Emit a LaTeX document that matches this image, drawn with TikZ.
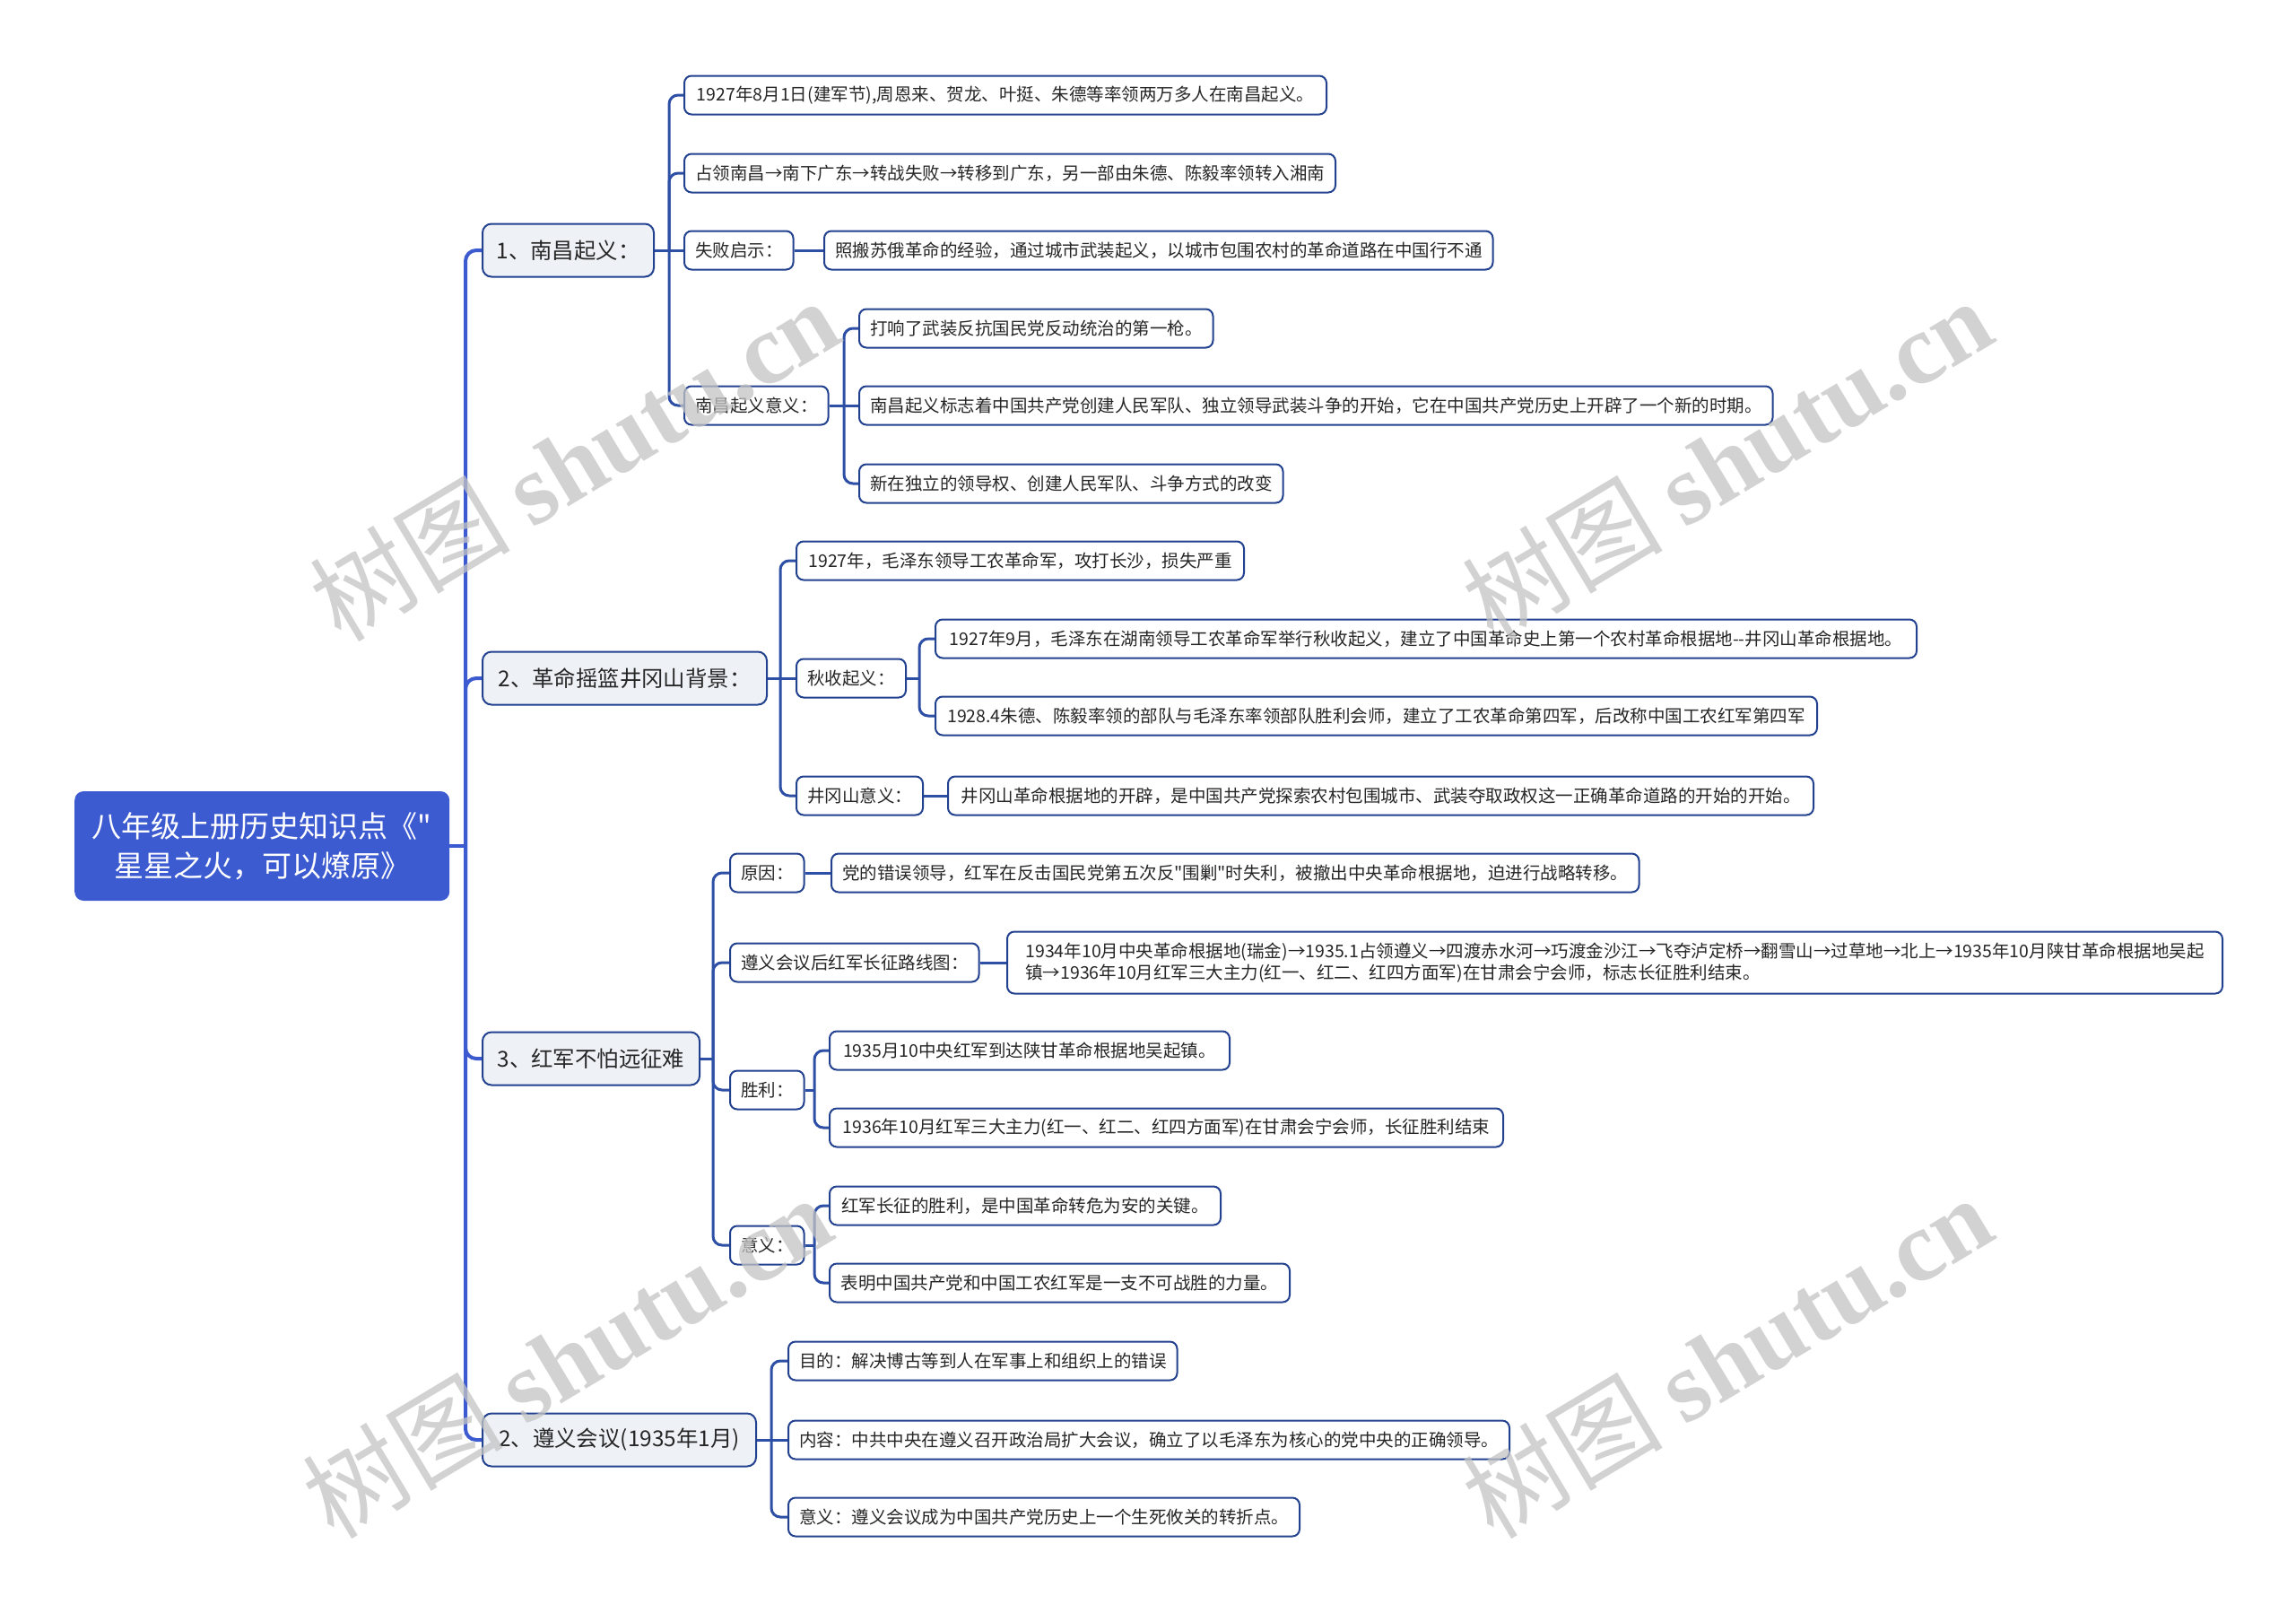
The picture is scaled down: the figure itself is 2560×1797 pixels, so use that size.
\documentclass[tikz,border=0pt]{standalone}
\usepackage{fontspec}
\setmainfont{Noto Sans CJK SC}[Ligatures=TeXOff]
\newfontfamily\wmfont{Liberation Serif}
\newfontfamily\wmcjk{Noto Sans CJK SC}
\definecolor{rootblue}{HTML}{3D5BD1}
\definecolor{navy}{HTML}{22418F}
\definecolor{subblue}{HTML}{2E4FA6}
\definecolor{lvfill}{HTML}{EEF2F7}
\definecolor{wmgray}{HTML}{C4C4C4}
\begin{document}
\begin{tikzpicture}[x=1pt,y=-1pt,
  box/.style={draw=navy, line width=2pt, rounded corners=8pt, anchor=west, inner xsep=12pt, inner ysep=0pt, align=left, text=black!85},
  rootbox/.style={fill=rootblue, rounded corners=10pt, anchor=west, text=white, align=center, inner sep=0pt,
    font=\fontsize{33pt}{44pt}\selectfont, minimum width=418pt, minimum height=122pt},
  lvone/.style={box, fill=lvfill, rounded corners=10pt, font=\fontsize{24.4pt}{29pt}\selectfont, minimum height=59pt},
  leaf/.style={box, fill=white, font=\fontsize{19.5pt}{24.5pt}\selectfont, minimum height=43pt},
  mainline/.style={draw=rootblue, line width=4pt, rounded corners=12pt},
  subline/.style={draw=subblue, line width=3pt, rounded corners=10pt},
  wm/.style={text=wmgray, opacity=0.75, rotate=31, inner sep=0pt},
  wmtext/.style={font=\wmcjk\fontsize{112pt}{120pt}\selectfont}
]
\useasboundingbox (0,0) rectangle (2560,1797);
\fill[white] (0,0) rectangle (2560,1797);

% root
\node[rootbox] (root) at (83,943) {八年级上册历史知识点《"\\星星之火，可以燎原》};

% level one
\node[lvone, minimum width=191pt] (A) at (537,279) {1、南昌起义：};
\node[lvone, minimum width=317pt] (B) at (537,756) {2、革命摇篮井冈山背景：};
\node[lvone, minimum width=242pt] (C) at (537,1180) {3、红军不怕远征难};
\node[lvone, minimum width=305pt] (D) at (537,1605) {2、遵义会议(1935年1月)};

% A children
\node[leaf, minimum width=716pt] (a1) at (762,106) {1927年8月1日(建军节),周恩来、贺龙、叶挺、朱德等率领两万多人在南昌起义。};
\node[leaf, minimum width=725pt] (a2) at (762,193) {占领南昌→南下广东→转战失败→转移到广东，另一部由朱德、陈毅率领转入湘南};
\node[leaf, minimum width=116pt] (a3) at (762,279) {失败启示：};
\node[leaf, minimum width=742pt] (a3c) at (918,279) {照搬苏俄革命的经验，通过城市武装起义，以城市包围农村的革命道路在中国行不通};
\node[leaf, minimum width=160pt] (a4) at (762,452) {南昌起义意义：};
\node[leaf, minimum width=390pt] (a41) at (957,366) {打响了武装反抗国民党反动统治的第一枪。};
\node[leaf, minimum width=1018pt] (a42) at (957,452) {南昌起义标志着中国共产党创建人民军队、独立领导武装斗争的开始，它在中国共产党历史上开辟了一个新的时期。};
\node[leaf, minimum width=468pt] (a43) at (957,539) {新在独立的领导权、创建人民军队、斗争方式的改变};

% B children
\node[leaf, minimum width=499pt] (b1) at (887,625) {1927年，毛泽东领导工农革命军，攻打长沙，损失严重};
\node[leaf, minimum width=122pt] (b2) at (887,756) {秋收起义：};
\node[leaf, minimum width=1094pt] (b21) at (1042,712) {1927年9月，毛泽东在湖南领导工农革命军举行秋收起义，建立了中国革命史上第一个农村革命根据地--井冈山革命根据地。};
\node[leaf, minimum width=983pt] (b22) at (1042,798) {1928.4朱德、陈毅率领的部队与毛泽东率领部队胜利会师，建立了工农革命第四军，后改称中国工农红军第四军};
\node[leaf, minimum width=137pt] (b3) at (887,887) {井冈山意义：};
\node[leaf, minimum width=965pt] (b3c) at (1056,887) {井冈山革命根据地的开辟，是中国共产党探索农村包围城市、武装夺取政权这一正确革命道路的开始的开始。};

% C children
\node[leaf, minimum width=80pt] (c1) at (813,973) {原因：};
\node[leaf, minimum width=899pt] (c1c) at (926,973) {党的错误领导，红军在反击国民党第五次反"围剿"时失利，被撤出中央革命根据地，迫进行战略转移。};
\node[leaf, minimum width=273pt] (c2) at (813,1073) {遵义会议后红军长征路线图：};
\node[leaf, minimum width=1355pt, minimum height=69pt] (c2c) at (1122,1073) {1934年10月中央革命根据地(瑞金)→1935.1占领遵义→四渡赤水河→巧渡金沙江→飞夺泸定桥→翻雪山→过草地→北上→1935年10月陕甘革命根据地吴起\\镇→1936年10月红军三大主力(红一、红二、红四方面军)在甘肃会宁会师，标志长征胜利结束。};
\node[leaf, minimum width=77pt] (c3) at (813,1215) {胜利：};
\node[leaf, minimum width=446pt] (c31) at (924,1171) {1935月10中央红军到达陕甘革命根据地吴起镇。};
\node[leaf, minimum width=751pt] (c32) at (924,1257) {1936年10月红军三大主力(红一、红二、红四方面军)在甘肃会宁会师，长征胜利结束};
\node[leaf, minimum width=77pt] (c4) at (813,1388) {意义：};
\node[leaf, minimum width=436pt] (c41) at (924,1344) {红军长征的胜利，是中国革命转危为安的关键。};
\node[leaf, minimum width=513pt] (c42) at (924,1430) {表明中国共产党和中国工农红军是一支不可战胜的力量。};

% D children
\node[leaf, minimum width=431pt] (d1) at (878,1517) {目的：解决博古等到人在军事上和组织上的错误};
\node[leaf, minimum width=804pt] (d2) at (878,1605) {内容：中共中央在遵义召开政治局扩大会议，确立了以毛泽东为核心的党中央的正确领导。};
\node[leaf, minimum width=569pt] (d3) at (878,1691) {意义：遵义会议成为中国共产党历史上一个生死攸关的转折点。};

% junction coordinates
\coordinate (jR) at (519,943);
\coordinate (jA) at (746,279);
\coordinate (jA4) at (941,452);
\coordinate (jB) at (870,756);
\coordinate (jB2) at (1025,756);
\coordinate (jC) at (795,1180);
\coordinate (jC3) at (908,1215);
\coordinate (jC4) at (908,1388);
\coordinate (jD) at (860,1605);

% root level
\draw[mainline] (root.east) -- (jR);
\foreach \c in {A,B,C,D} \draw[mainline] (jR) |- (\c.west);
% A
\draw[subline] (A.east) -- (a3.west);
\foreach \c in {a1,a2,a4} \draw[subline] (jA) |- (\c.west);
\draw[subline] (a3.east) -- (a3c.west);
\draw[subline] (a4.east) -- (a42.west);
\foreach \c in {a41,a43} \draw[subline] (jA4) |- (\c.west);
% B
\draw[subline] (B.east) -- (b2.west);
\foreach \c in {b1,b3} \draw[subline] (jB) |- (\c.west);
\draw[subline] (b2.east) -- (jB2);
\foreach \c in {b21,b22} \draw[subline] (jB2) |- (\c.west);
\draw[subline] (b3.east) -- (b3c.west);
% C
\draw[subline] (C.east) -- (jC);
\foreach \c in {c1,c2,c3,c4} \draw[subline] (jC) |- (\c.west);
\draw[subline] (c1.east) -- (c1c.west);
\draw[subline] (c2.east) -- (c2c.west);
\draw[subline] (c3.east) -- (jC3);
\foreach \c in {c31,c32} \draw[subline] (jC3) |- (\c.west);
\draw[subline] (c4.east) -- (jC4);
\foreach \c in {c41,c42} \draw[subline] (jC4) |- (\c.west);
% D
\draw[subline] (D.east) -- (d2.west);
\foreach \c in {d1,d3} \draw[subline] (jD) |- (\c.west);

% watermarks
\node[wm, wmtext] (wm1) at (640,512) {树图 {\wmfont\bfseries shutu.cn}};
\node[wm, wmtext] (wm2) at (1925,512) {树图 {\wmfont\bfseries shutu.cn}};
\node[wm, wmtext] (wm3) at (632,1512) {树图 {\wmfont\bfseries shutu.cn}};
\node[wm, wmtext] (wm4) at (1925,1512) {树图 {\wmfont\bfseries shutu.cn}};
\end{tikzpicture}
\end{document}
